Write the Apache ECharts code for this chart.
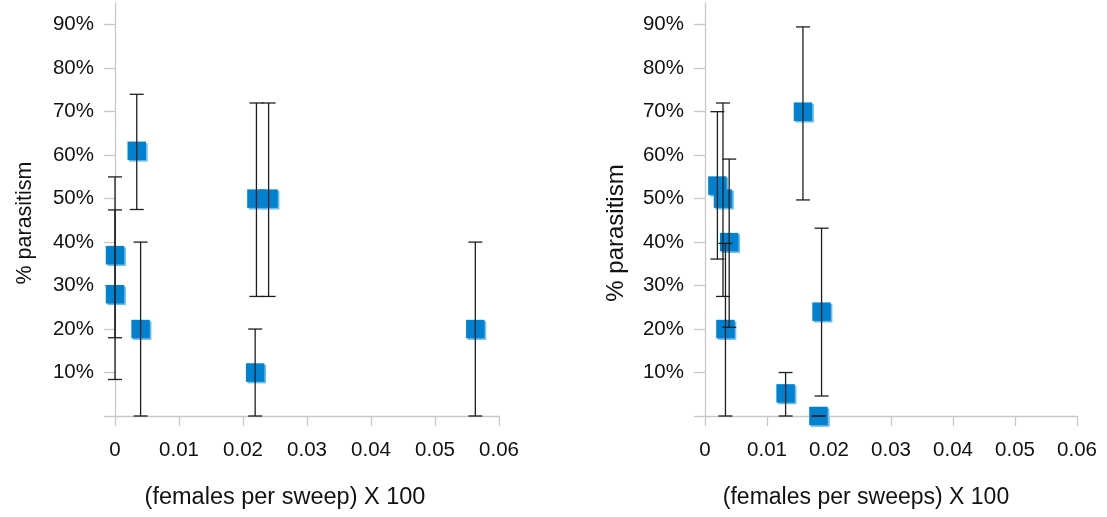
<!DOCTYPE html>
<html>
<head>
<meta charset="utf-8">
<script src="https://cdn.jsdelivr.net/npm/echarts@6/dist/echarts.min.js"></script>
<style>
html,body{margin:0;padding:0;background:#fff;}
#c{width:1107px;height:517px;}
</style>
</head>
<body>
<div id="c"></div>
<script>
// ---- data ----
var leftX    = [0, 0, 0.0034, 0.004, 0.0221, 0.024, 0.0219, 0.0563];
var leftY    = [0.37, 0.28, 0.61, 0.20, 0.50, 0.50, 0.10, 0.20];
var leftLow  = [0.18, 0.084, 0.475, 0, 0.275, 0.275, 0, 0];
var leftHigh = [0.55, 0.474, 0.74, 0.40, 0.72, 0.72, 0.20, 0.40];

var rightX    = [0.002, 0.0029, 0.0039, 0.0033, 0.0158, 0.013, 0.0188, 0.0183];
var rightY    = [0.53, 0.50, 0.40, 0.20, 0.70, 0.052, 0.24, 0];
var rightLow  = [0.361, 0.275, 0.204, 0, 0.497, 0, 0.046, 0];
var rightHigh = [0.70, 0.72, 0.591, 0.397, 0.895, 0.10, 0.432, 0];

var yTicks  = [0, 0.1, 0.2, 0.3, 0.4, 0.5, 0.6, 0.7, 0.8, 0.9];
var yLabels = ['', '10%', '20%', '30%', '40%', '50%', '60%', '70%', '80%', '90%'];
var xTicks  = [0, 0.01, 0.02, 0.03, 0.04, 0.05, 0.06];
var xLabels = ['0', '0.01', '0.02', '0.03', '0.04', '0.05', '0.06'];

var leftXTitle  = '(females per sweep) X 100';
var rightXTitle = '(females per sweeps) X 100';
var yTitle = '% parasitism';

// ---- build ----
var FONT = 'Arial, "Liberation Sans", sans-serif';
var AXIS_COLOR = '#c8c8c8';
var TEXT = '#111111';

function pts(xs, ys) { return xs.map(function (x, i) { return [x, ys[i]]; }); }
function bars(xs, lo, hi) { return xs.map(function (x, i) { return [x, lo[i], hi[i]]; }); }

function xAxisCfg(gi) {
  return {
    type: 'value', gridIndex: gi, min: 0, max: 0.06, interval: 0.01,
    axisLine: { show: true, onZero: false, lineStyle: { color: AXIS_COLOR, width: 1.3 } },
    axisTick: { show: true, length: 10, lineStyle: { color: AXIS_COLOR, width: 1.3 } },
    axisLabel: {
      margin: 24, fontSize: 20.5, color: TEXT, fontFamily: FONT,
      formatter: function (v) { var i = xTicks.indexOf(+v.toFixed(4)); return i >= 0 ? xLabels[i] : ''; }
    },
    splitLine: { show: false }
  };
}
function yAxisCfg(gi) {
  return {
    type: 'value', gridIndex: gi, min: 0, max: 0.95,
    axisLine: { show: true, lineStyle: { color: AXIS_COLOR, width: 1.3 } },
    axisTick: { show: true, length: 11, customValues: yTicks, lineStyle: { color: AXIS_COLOR, width: 1.3 } },
    axisLabel: {
      margin: 21, fontSize: 20.5, color: TEXT, fontFamily: FONT,
      customValues: yTicks,
      formatter: function (v) { var i = yTicks.indexOf(+(+v).toFixed(4)); return i >= 0 ? yLabels[i] : ''; }
    },
    splitLine: { show: false }
  };
}

function errRender(params, api) {
  var x = api.value(0), lo = api.value(1), hi = api.value(2);
  var pLo = api.coord([x, lo]);
  var pHi = api.coord([x, hi]);
  var cw = 7;
  var st = { stroke: '#1e1e1e', lineWidth: 1.3 };
  return {
    type: 'group',
    children: [
      { type: 'line', shape: { x1: pLo[0], y1: pLo[1], x2: pHi[0], y2: pHi[1] }, style: st },
      { type: 'line', shape: { x1: pLo[0] - cw, y1: pLo[1], x2: pLo[0] + cw, y2: pLo[1] }, style: st },
      { type: 'line', shape: { x1: pHi[0] - cw, y1: pHi[1], x2: pHi[0] + cw, y2: pHi[1] }, style: st }
    ]
  };
}

var markerStyle = {
  color: '#0082d0',
  shadowColor: '#6fbdea',
  shadowOffsetX: 1.6,
  shadowOffsetY: 1.6,
  shadowBlur: 0,
  opacity: 1
};

var chart = echarts.init(document.getElementById('c'), null, { renderer: 'canvas' });
chart.setOption({
  animation: false,
  backgroundColor: '#ffffff',
  grid: [
    { left: 115, top: 3, width: 384, height: 413, containLabel: false },
    { left: 705, top: 3, width: 372, height: 413, containLabel: false }
  ],
  xAxis: [xAxisCfg(0), xAxisCfg(1)],
  yAxis: [yAxisCfg(0), yAxisCfg(1)],
  series: [
    { type: 'scatter', xAxisIndex: 0, yAxisIndex: 0, symbol: 'rect', symbolSize: 18.5,
      data: pts(leftX, leftY), itemStyle: markerStyle, clip: false, z: 2 },
    { type: 'custom', xAxisIndex: 0, yAxisIndex: 0, renderItem: errRender,
      data: bars(leftX, leftLow, leftHigh), clip: false, z: 3 },
    { type: 'scatter', xAxisIndex: 1, yAxisIndex: 1, symbol: 'rect', symbolSize: 18.5,
      data: pts(rightX, rightY), itemStyle: markerStyle, clip: false, z: 2 },
    { type: 'custom', xAxisIndex: 1, yAxisIndex: 1, renderItem: errRender,
      data: bars(rightX, rightLow, rightHigh), clip: false, z: 3 }
  ],
  graphic: [
    { type: 'text', x: 285, y: 498, style: { text: leftXTitle, fontSize: 23.5, fontFamily: FONT, fill: TEXT, textAlign: 'center', textVerticalAlign: 'middle' } },
    { type: 'text', x: 866, y: 498, style: { text: rightXTitle, fontSize: 23, fontFamily: FONT, fill: TEXT, textAlign: 'center', textVerticalAlign: 'middle' } },
    { type: 'text', x: 25, y: 223, rotation: Math.PI / 2, style: { text: yTitle, fontSize: 21.5, fontFamily: FONT, fill: TEXT, textAlign: 'center', textVerticalAlign: 'middle' } },
    { type: 'text', x: 616, y: 233, rotation: Math.PI / 2, style: { text: yTitle, fontSize: 24, fontFamily: FONT, fill: TEXT, textAlign: 'center', textVerticalAlign: 'middle' } }
  ]
});
</script>
</body>
</html>
